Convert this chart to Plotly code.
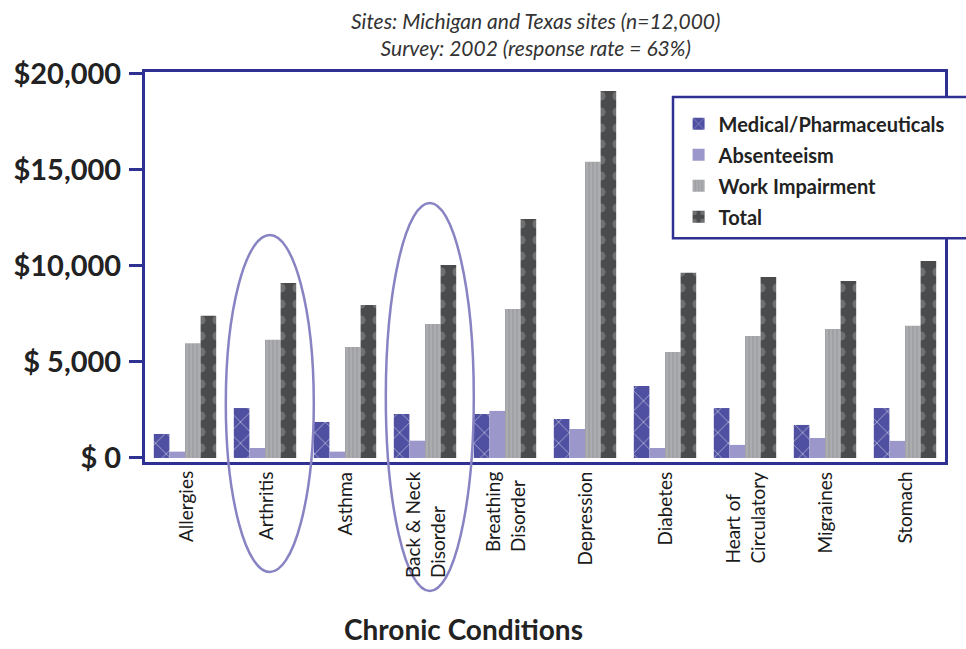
import plotly.graph_objects as go

categories = ["Allergies", "Arthritis", "Asthma", "Back & Neck<br>Disorder", "Breathing<br>Disorder",
              "Depression", "Diabetes", "Heart of<br>Circulatory", "Migraines", "Stomach"]
medical = [1250, 2600, 1875, 2290, 2290, 2030, 3750, 2600, 1720, 2600]
absenteeism = [330, 520, 330, 900, 2450, 1510, 520, 680, 1040, 890]
work_impairment = [5970, 6150, 5780, 6980, 7760, 15420, 5520, 6350, 6720, 6880]
total = [7400, 9110, 7970, 10050, 12450, 19110, 9640, 9430, 9220, 10260]

y_tickvals = [0, 5000, 10000, 15000, 20000]
y_ticktext = ["$ 0", "$ 5,000", "$10,000", "$15,000", "$20,000"]

NAVY = "#2e3192"
FONT = "Lato"

fig = go.Figure()
fig.add_trace(go.Bar(
    x=categories, y=medical, name="Medical/Pharmaceuticals", legendgroup="a",
    marker=dict(color="#5050a2", line=dict(width=0),
                pattern=dict(shape="x", fgcolor="white", size=15, solidity=0.12)),
))
fig.add_trace(go.Bar(
    x=categories, y=absenteeism, name="Absenteeism", legendgroup="b",
    marker=dict(color="#9c97ca", line=dict(width=0)),
))
fig.add_trace(go.Bar(
    x=categories, y=work_impairment, name="Work Impairment", legendgroup="c",
    marker=dict(color="#a0a1a4", line=dict(width=0),
                pattern=dict(shape="|", fgcolor="#c9c9cc", size=4, solidity=0.3)),
))
fig.add_trace(go.Bar(
    x=categories, y=total, name="Total", legendgroup="d",
    marker=dict(color="#4a4b4d", line=dict(width=0),
                pattern=dict(shape=".", fgcolor="#969696", size=16, solidity=0.25)),
))

shapes = [
    # legend box
    dict(type="rect", xref="paper", yref="paper", x0=0.66, x1=1.05, y0=0.574, y1=0.936,
         fillcolor="white", line=dict(color=NAVY, width=2.5), layer="above"),
    # ellipses
    dict(type="circle", xref="paper", yref="paper", x0=0.101, x1=0.211, y0=-0.282, y1=0.582,
         line=dict(color="#8883c2", width=2.5), layer="above"),
    dict(type="circle", xref="paper", yref="paper", x0=0.301, x1=0.411, y0=-0.331, y1=0.664,
         line=dict(color="#8883c2", width=2.5), layer="above"),
]

annotations = [
    dict(text="Sites: Michigan and Texas sites (n=12,000)<br>Survey: 2002 (response rate = 63%)",
         xref="paper", yref="paper", x=0.4875, y=1.0, yanchor="bottom", xanchor="center",
         showarrow=False, yshift=10,
         font=dict(family=FONT, size=21, color="#333333", style="italic")),
    dict(text="<b>Chronic Conditions</b>", xref="paper", yref="paper", x=0.3975, y=-0.428,
         xanchor="center", yanchor="middle", showarrow=False, borderpad=0,
         font=dict(family=FONT, size=28, color="#222222")),
]
# category labels (rotated, lines start-aligned like the original)
for cat in categories:
    annotations.append(dict(
        text=cat, xref="x", yref="paper", x=cat, y=-0.022, xanchor="center", yanchor="top",
        textangle=-90, align="left", showarrow=False, borderpad=0,
        font=dict(family=FONT, size=19, color="#1a1a1a")))

fig.update_layout(
    width=966, height=649,
    margin=dict(l=145, r=21, t=72, b=187),
    paper_bgcolor="white", plot_bgcolor="white",
    barmode="group", bargap=0.22, bargroupgap=0,
    showlegend=True,
    legend=dict(x=0.667, y=0.917, xanchor="left", yanchor="top",
                bgcolor="rgba(0,0,0,0)", borderwidth=0, tracegroupgap=2,
                font=dict(family=FONT, size=20, color="#222222", weight="bold")),
    shapes=shapes, annotations=annotations,
    xaxis=dict(type="category", range=[-0.5, 9.5], showline=True, mirror=True,
               linecolor=NAVY, linewidth=3, ticks="", showticklabels=False, showgrid=False,
               automargin=False),
    yaxis=dict(range=[-210, 20100], tickvals=y_tickvals, ticktext=y_ticktext,
               showline=True, mirror=True, linecolor=NAVY, linewidth=3,
               ticks="outside", ticklen=13, tickwidth=2.5, tickcolor=NAVY,
               showgrid=False, zeroline=False, ticklabelstandoff=2, automargin=False,
               tickfont=dict(family=FONT, size=29, color="#222222", weight="bold")),
)

fig.write_html("out.html", config={"displayModeBar": False},
               post_script="document.body.style.margin='0';")
